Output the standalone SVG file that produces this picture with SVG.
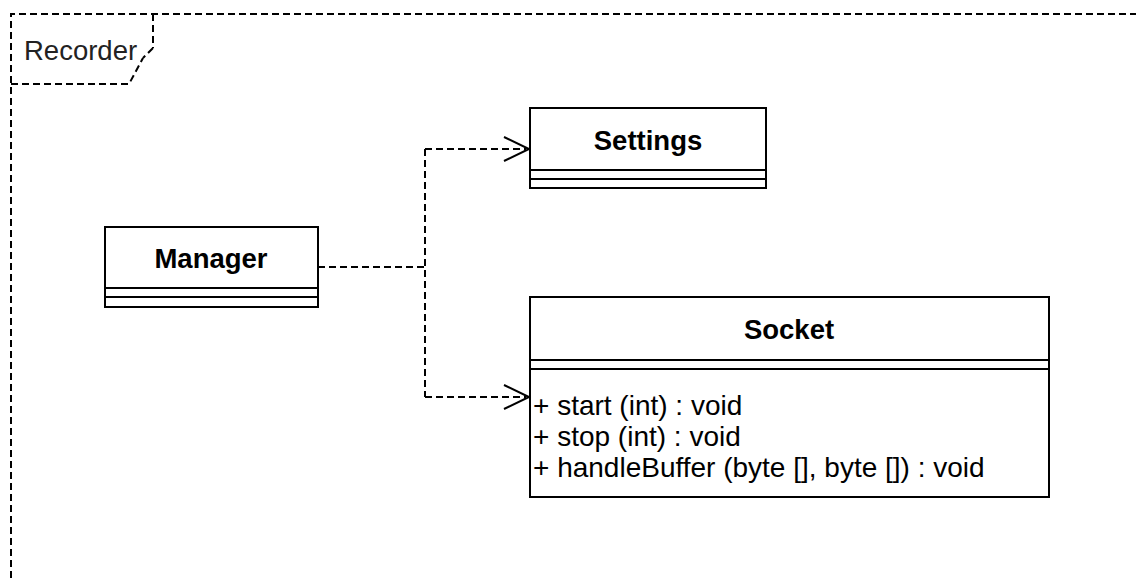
<svg xmlns="http://www.w3.org/2000/svg" width="1136" height="578" viewBox="0 0 1136 578">
  <style>
    .frame { fill: none; stroke: #000; stroke-width: 2; stroke-dasharray: 7 4; }
    .box { fill: #fff; stroke: #000; stroke-width: 2; }
    .sep { stroke: #000; stroke-width: 2; }
    .title { font-family: "Liberation Sans", Arial, sans-serif; font-size: 27.5px; font-weight: bold; fill: #000; text-anchor: middle; }
    .label { font-family: "Liberation Sans", Arial, sans-serif; font-size: 27.5px; fill: #222; }
    .member { font-family: "Liberation Sans", Arial, sans-serif; font-size: 28px; fill: #000; }
    .dep { fill: none; stroke: #000; stroke-width: 2; stroke-dasharray: 7 4; }
    .head { fill: none; stroke: #000; stroke-width: 2; }
  </style>

  <!-- package frame -->
  <g id="package-recorder">
    <path class="frame" d="M11 578 V14 H1136"/>
    <path class="frame" d="M11 84 H129 L143 58 M153 14 V48"/>
    <path class="frame" d="M153 48 L143 58"/>
    <text class="label" x="24" y="60">Recorder</text>
  </g>

  <!-- dependency connectors -->
  <g id="connectors">
    <path class="dep" d="M318 267 H425 M425 149 V397"/>
    <path class="dep" d="M425 149 H526"/>
    <path class="dep" d="M425 397 H526"/>
    <path class="head" d="M504 137 L529 149 L504 161"/>
    <path class="head" d="M504 385 L529 397 L504 409"/>
  </g>

  <g id="node-manager">
    <rect class="box" x="105" y="227" width="213" height="80"/>
    <line class="sep" x1="105" y1="288" x2="318" y2="288"/>
    <line class="sep" x1="105" y1="297" x2="318" y2="297"/>
    <text class="title" x="211" y="268">Manager</text>
  </g>

  <g id="node-settings">
    <rect class="box" x="530" y="108" width="236" height="80"/>
    <line class="sep" x1="530" y1="170" x2="766" y2="170"/>
    <line class="sep" x1="530" y1="179" x2="766" y2="179"/>
    <text class="title" x="648" y="150">Settings</text>
  </g>

  <g id="node-socket">
    <rect class="box" x="530" y="297" width="519" height="200"/>
    <line class="sep" x1="530" y1="360" x2="1049" y2="360"/>
    <line class="sep" x1="530" y1="369" x2="1049" y2="369"/>
    <text class="title" x="789" y="339">Socket</text>
    <text class="member" x="533" y="415">+ start (int) : void</text>
    <text class="member" x="533" y="446">+ stop (int) : void</text>
    <text class="member" x="533" y="477">+ handleBuffer (byte [], byte []) : void</text>
  </g>
</svg>
